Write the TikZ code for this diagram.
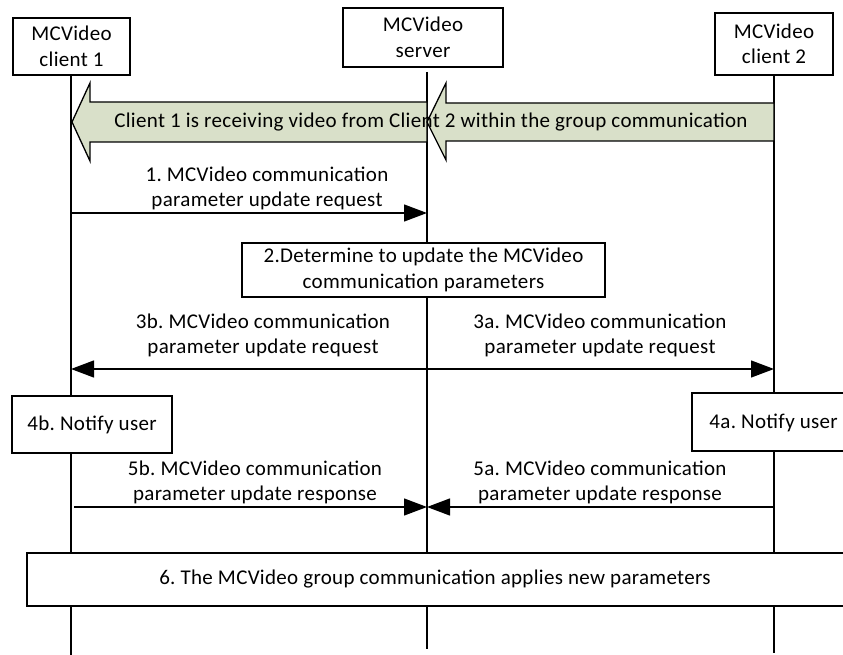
\documentclass[tikz,border=0pt]{standalone}
\usepackage{fontspec}
\setmainfont{Carlito}[LetterSpace=1.5]
\usetikzlibrary{arrows.meta}
\definecolor{blockfill}{RGB}{217,224,201}
\frenchspacing
\begin{document}
\begin{tikzpicture}[x=1pt,y=-1pt,
  every node/.style={font=\fontsize{21}{25.5}\selectfont},
  box/.style={draw=black,line width=1.5pt,fill=white,inner sep=0pt,align=center},
  life/.style={line width=1.3pt},
  msg/.style={line width=1.3pt,-{Triangle[length=23pt,width=17pt]}},
  dmsg/.style={line width=1.3pt,{Triangle[length=23pt,width=17pt]}-{Triangle[length=23pt,width=17pt]}},
  lbl/.style={align=center,inner sep=0pt},
  blockarrow/.style={draw=black,line width=1.3pt,fill=blockfill,line join=miter}]
\useasboundingbox (0,0) rectangle (843,655);
\begin{scope}
\clip (0,0) rectangle (843,655);
% lifelines
\coordinate (c1t) at (71,75);  \coordinate (c1b) at (71,655);
\coordinate (svt) at (427,72); \coordinate (svb) at (427,649);
\coordinate (c2t) at (774,75); \coordinate (c2b) at (774,653);
\draw[life] (c1t) -- (c1b);
\draw[life] (svt) -- (svb);
\draw[life] (c2t) -- (c2b);
% header boxes
\node[box,minimum width=117pt,minimum height=57pt] (c1) at (71.5,46.5) {MCVideo\\client 1};
\node[box,minimum width=160pt,minimum height=59pt] (sv) at (423,37.5) {MCVideo\\server};
\node[box,minimum width=118pt,minimum height=62pt] (c2) at (774,44) {MCVideo\\client 2};
% block arrows
\draw[blockarrow] (427,102) -- (90,102) -- (90,83) -- (72,122) -- (90,161) -- (90,142) -- (427,142) -- cycle;
\draw[blockarrow] (774,103) -- (446,103) -- (446,83) -- (427,122) -- (446,160) -- (446,141) -- (774,141) -- cycle;
\node[lbl] (ba) at (431,122) {Client 1 is receiving video from Client 2 within the group communication};
% step 1
\coordinate (m1s) at (71,213); \coordinate (m1e) at (427,213);
\draw[msg] (m1s) -- (m1e);
\node[lbl] (l1) at (267,188.5) {1. MCVideo communication\\parameter update request};
% step 2
\node[box,minimum width=363pt,minimum height=54pt] (s2) at (423.5,270) {2.Determine to update the MCVideo\\communication parameters};
% step 3
\coordinate (m3l) at (71,369); \coordinate (m3r) at (774,369);
\draw[dmsg] (m3l) -- (m3r);
\node[lbl] (l3b) at (263,335.5) {3b. MCVideo communication\\parameter update request};
\node[lbl] (l3a) at (600,335.5) {3a. MCVideo communication\\parameter update request};
% step 4
\node[box,minimum width=160pt,minimum height=57pt] (s4b) at (92,424.5) {4b. Notify user};
\node[box,minimum width=158pt,minimum height=58pt] (s4a) at (771,422) {};
\node[lbl,anchor=east] (l4a) at (838,423) {4a. Notify user};
% step 5
\coordinate (m5bs) at (74,507); \coordinate (m5be) at (427,507);
\coordinate (m5as) at (774,507); \coordinate (m5ae) at (427,507);
\draw[msg] (m5bs) -- (m5be);
\draw[msg] (m5as) -- (m5ae);
\node[lbl] (l5b) at (255,482.5) {5b. MCVideo communication\\parameter update response};
\node[lbl] (l5a) at (600,482.5) {5a. MCVideo communication\\parameter update response};
% step 6
\node[box,minimum width=821pt,minimum height=53pt] (s6) at (437.5,579.5) {};
\node[lbl] (l6) at (435,579.5) {6. The MCVideo group communication applies new parameters};
\end{scope}
\end{tikzpicture}
\end{document}
